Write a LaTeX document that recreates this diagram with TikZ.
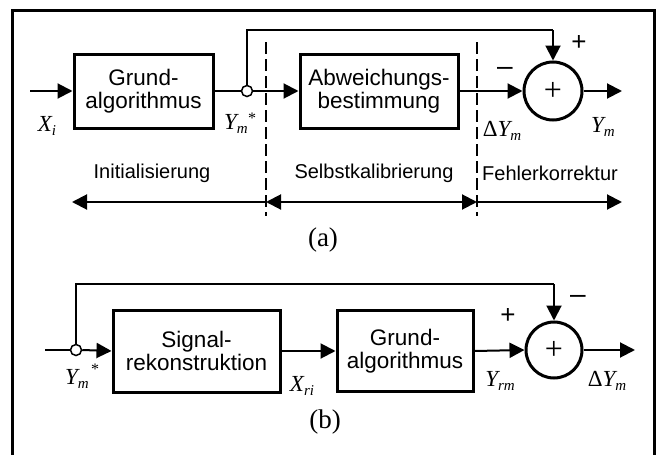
\documentclass[tikz,border=0pt]{standalone}
\usepackage{fontspec}
\setmainfont{Liberation Sans}
\newfontfamily\tms{Liberation Serif}
\usetikzlibrary{arrows.meta}
\newcommand\lsub[1]{\raisebox{-0.35ex}{\fontsize{15}{15}\selectfont #1}}
\begin{document}
\begin{tikzpicture}[x=1pt,y=-1pt,
 box/.style={draw,line width=3pt,inner sep=0pt,align=center,font=\fontsize{22.5}{23}\selectfont},
 tap/.style={draw,circle,line width=1.5pt,minimum size=11pt,inner sep=0pt,fill=white},
 sumnode/.style={draw,circle,line width=3pt,minimum size=58pt,inner sep=0pt,font=\tms\fontsize{32}{32}\selectfont},
 conn/.style={line width=2pt},
 fb/.style={line width=1.5pt},
 arr/.style={line width=2pt,-{Triangle[length=15pt,width=15pt]}},
 darr/.style={line width=2pt,{Triangle[length=15pt,width=15pt]}-{Triangle[length=15pt,width=15pt]}},
 sep/.style={line width=1.5pt,dash pattern=on 12pt off 5pt},
 lbl/.style={font=\tms\itshape\fontsize{23}{23}\selectfont,inner sep=0pt},
 star/.style={font=\tms\fontsize{16}{16}\selectfont,inner sep=0pt},
 phase/.style={font=\fontsize{20}{20}\selectfont,inner sep=0pt},
 sign/.style={font=\fontsize{26}{26}\selectfont,inner sep=0pt},
 minus/.style={font=\fontsize{28}{28}\selectfont,inner sep=0pt},
 captext/.style={font=\tms\fontsize{27}{27}\selectfont,inner sep=0pt}
]
\useasboundingbox (0,0) rectangle (657,455);
% frame
\draw[line width=3pt] (12,470) -- (12,10) -- (654,10) -- (654,470);

% ---------- panel (a) ----------
\coordinate (ina) at (30,91);
\node[box,minimum width=139pt,minimum height=74pt] (g1) at (143.5,91) {Grund-\\algorithmus};
\node[tap] (t1) at (247,91) {};
\node[box,minimum width=158pt,minimum height=74pt] (ab) at (379,91) {Abweichungs-\\bestimmung};
\node[sumnode] (s1) at (553,91) {+};
\coordinate (outa) at (622,91);
\coordinate (fa1) at (247,30);
\coordinate (fa2) at (553,30);

\draw[arr] (ina) -- (g1.west);
\draw[conn] (g1.east) -- (t1.west);
\draw[arr] (t1.east) -- (ab.west);
\draw[arr] (ab.east) -- (s1.west);
\draw[arr] (s1.east) -- (outa);
\draw[fb] (t1.north) -- (fa1) -- (fa2);
\draw[arr] (fa2) -- (s1.north);

\node[lbl] (xi) at (47,126) {X\lsub{i}};
\node[lbl] (yma) at (236,124) {Y\lsub{m}};
\node[star] (sta) at (252,118) {*};
\node[lbl] (dya) at (502,131) {\textup{Δ}Y\lsub{m}};
\node[lbl] (yoa) at (603,127) {Y\lsub{m}};
\node[sign] (pa) at (579,43) {+};
\node[minus] (ma) at (505,71) {–};

% separators
\coordinate (d1t) at (266,42); \coordinate (d1b) at (266,216);
\coordinate (d2t) at (477,42); \coordinate (d2b) at (477,216);
\draw[sep] (d1t) -- (d1b);
\draw[sep] (d2t) -- (d2b);
\coordinate (pl) at (72,202);
\coordinate (p1) at (266,202);
\coordinate (p2) at (477,202);
\coordinate (pr) at (622,202);
\draw[arr] (p1) -- (pl);
\draw[darr] (p1) -- (p2);
\draw[arr] (p2) -- (pr);
\node[phase] (ini) at (152,173) {Initialisierung};
\node[phase] (sel) at (374,173) {Selbstkalibrierung};
\node[phase] (feh) at (550,173) {Fehlerkorrektur};
\node[captext] (capa) at (323,240) {(a)};

% ---------- panel (b) ----------
\coordinate (inb) at (45,350);
\node[tap] (t2) at (76,350) {};
\node[box,minimum width=167pt,minimum height=82pt] (sr) at (196.5,351) {Signal-\\rekonstruktion};
\node[box,minimum width=136pt,minimum height=81pt] (g2) at (405,351) {Grund-\\algorithmus};
\node[sumnode,minimum size=56pt] (s2) at (554,350) {+};
\coordinate (outb) at (635,350);
\coordinate (fb1) at (76,284);
\coordinate (fb2) at (554,284);

\draw[conn] (inb) -- (t2.west);
\draw[arr] (t2.east) -- (sr.west);
\draw[arr] (sr.east) -- (g2.west);
\draw[arr] (g2.east) -- (s2.west);
\draw[arr] (s2.east) -- (outb);
\draw[fb] (t2.north) -- (fb1) -- (fb2);
\draw[arr] (fb2) -- (s2.north);

\node[lbl] (ymb) at (77,379) {Y\lsub{m}};
\node[star] (stb) at (95,369) {*};
\node[lbl] (xri) at (302,386) {X\lsub{ri}};
\node[lbl] (yrm) at (500,381) {Y\lsub{rm}};
\node[lbl] (dyb) at (607,381) {\textup{Δ}Y\lsub{m}};
\node[sign] (pb) at (508,316) {+};
\node[minus] (mb) at (578,299) {–};
\node[captext] (capb) at (325,422) {(b)};
\end{tikzpicture}
\end{document}
